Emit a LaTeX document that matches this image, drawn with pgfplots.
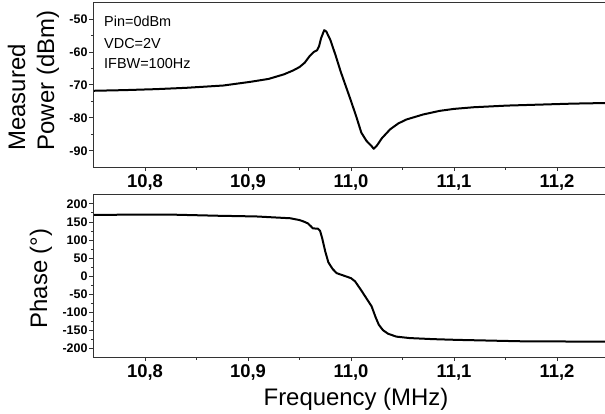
\documentclass[border=0pt]{standalone}
\usepackage{fontspec}
\setmainfont{Liberation Sans}
\usepackage{pgfplots}
\pgfplotsset{compat=1.18}
\begin{document}
\begin{tikzpicture}
\pgfplotsset{
  common/.style={
    scale only axis, width=515bp,
    xmin=10.75, xmax=11.25,
    axis line style={black!80, line width=0.9bp},
    xtick={10.8,10.9,11.0,11.1,11.2},
    minor x tick num=1,
    minor y tick num=1,
    xtick pos=bottom, ytick pos=left,
    tick align=outside,
    major tick length=4bp, minor tick length=2.5bp,
    every tick/.style={black!80, line width=0.7bp},
    /pgf/number format/assume math mode=true,
    xticklabel style={font=\fontsize{18.5}{18.5}\selectfont\bfseries,
      /pgf/number format/.cd, fixed, fixed zerofill, precision=1, use comma},
    yticklabel style={font=\fontsize{12.5}{12.5}\selectfont\bfseries, xshift=1.5bp,
      /pgf/number format/.cd, fixed, precision=0},
    clip=true,
  }
}
\begin{axis}[common, name=top, at={(0,0)}, anchor=north west,
  height=164.7bp, ymin=-95, ymax=-45, ytick={-90,-80,-70,-60,-50}]
\addplot[black, line width=2bp, line join=round] coordinates {
(10.750,-71.8) (10.780,-71.6) (10.811,-71.3) (10.840,-70.9) (10.876,-70.2)
(10.902,-69.1) (10.920,-68.2) (10.935,-66.8) (10.944,-65.6) (10.950,-64.6)
(10.955,-63.3) (10.960,-61.2) (10.964,-60.0) (10.967,-59.5) (10.969,-58.3)
(10.971,-55.8) (10.974,-53.4) (10.976,-53.8) (10.980,-56.4) (10.985,-61.0)
(10.990,-66.0) (10.999,-74.0) (11.005,-79.5) (11.010,-84.5) (11.015,-87.0)
(11.020,-88.6) (11.022,-89.4) (11.025,-88.5) (11.030,-86.2) (11.038,-83.5)
(11.046,-81.7) (11.054,-80.5) (11.070,-79.0) (11.086,-77.9) (11.100,-77.3)
(11.119,-76.8) (11.151,-76.3) (11.183,-76.0) (11.215,-75.7) (11.250,-75.5)
};
\end{axis}
\begin{axis}[common, name=bot, at={(0,-192.3bp)}, anchor=north west,
  height=162.4bp, ymin=-225, ymax=225,
  ytick={-200,-150,-100,-50,0,50,100,150,200}]
\addplot[black, line width=2bp, line join=round] coordinates {
(10.750,169.5) (10.800,170) (10.827,170) (10.870,167) (10.908,165)
(10.941,160) (10.950,155) (10.954,151) (10.958,146) (10.961,138)
(10.963,132) (10.968,131) (10.970,125) (10.972,105) (10.975,68)
(10.978,38) (10.982,20) (10.986,8) (10.995,-1) (11.000,-6)
(11.004,-15) (11.010,-40) (11.015,-62) (11.020,-84) (11.024,-115)
(11.027,-135) (11.031,-150) (11.036,-160) (11.044,-168) (11.057,-172)
(11.080,-175) (11.103,-177) (11.167,-181) (11.250,-182)
};
\end{axis}
% frame lines (top and left edges)
\draw[black!80, line width=1bp] (top.south west) -- (top.north west) -- (top.north east);
\draw[black!80, line width=1bp] (bot.south west) -- (bot.north west) -- (bot.north east);
% annotations
\node[anchor=base west, inner sep=0, font=\fontsize{14.5}{14.5}\selectfont] at (10.5bp,-24bp) {Pin=0dBm};
\node[anchor=base west, inner sep=0, font=\fontsize{14.5}{14.5}\selectfont] at (10.5bp,-45.5bp) {VDC=2V};
\node[anchor=base west, inner sep=0, font=\fontsize{14.5}{14.5}\selectfont] at (10.5bp,-66.3bp) {IFBW=100Hz};
% axis labels
\node[rotate=90, inner sep=0, font=\fontsize{24}{24}\selectfont] at (-76.8bp,-95bp) {Measured};
\node[rotate=90, inner sep=0, font=\fontsize{24}{24}\selectfont] at (-45.5bp,-78bp) {Power (dBm)};
\node[rotate=90, inner sep=0, font=\fontsize{24}{24}\selectfont] at (-52.5bp,-276bp) {Phase (°)};
\node[inner sep=0, font=\fontsize{24}{24}\selectfont] at (262.5bp,-397bp) {Frequency (MHz)};
\pgfresetboundingbox
\path[use as bounding box] (-93.5bp,2.5bp) rectangle (511.5bp,-411.5bp);
\end{tikzpicture}
\end{document}
